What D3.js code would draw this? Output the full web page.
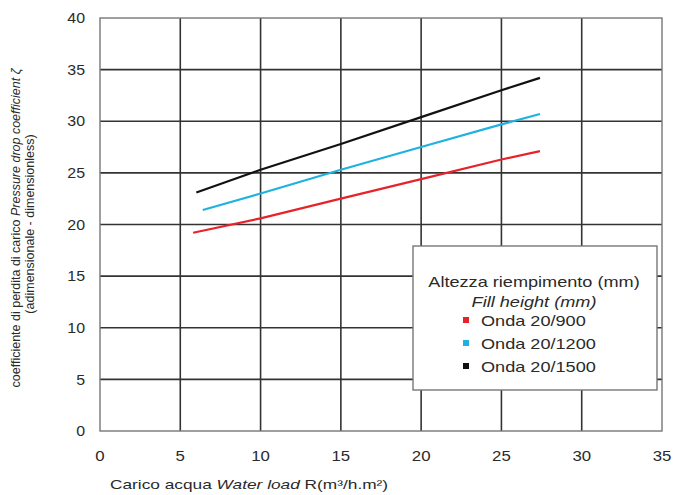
<!DOCTYPE html>
<html><head><meta charset="utf-8">
<script src="https://cdn.jsdelivr.net/npm/d3@7"></script>
<style>body{margin:0;background:#fff}svg{display:block}text{font-family:"Liberation Sans",Arial,sans-serif;fill:#2a2a2a}</style>
</head><body><svg id="c" width="687" height="495"></svg>
<script>
const xTicks=[0,5,10,15,20,25,30,35];
const yTicks=[0,5,10,15,20,25,30,35,40];
const seriesNames=["Onda 20/900","Onda 20/1200","Onda 20/1500"];
const seriesColors=["#e8222b","#1eb1e2","#111111"];
const xRed=[5.8,10,15,20,25,27.4];
const yRed=[19.2,20.6,22.5,24.4,26.3,27.1];
const xBlue=[6.4,10,15,20,25,27.4];
const yBlue=[21.4,23.0,25.3,27.5,29.7,30.7];
const xBlack=[6.0,10,15,20,25,27.4];
const yBlack=[23.1,25.3,27.8,30.4,33.0,34.2];

const svg=d3.select("#c");
const L=100,R=662,T=18,B=431;
const x=d3.scaleLinear().domain([0,35]).range([L,R]);
const y=d3.scaleLinear().domain([0,40]).range([B,T]);

// horizontally stretched text helper
function stext(parent,px,py,size,sx,anchor){
  return parent.append("g").attr("transform",`translate(${px},${py}) scale(${sx},1)`)
    .append("text").attr("font-size",size).attr("text-anchor",anchor||"start");
}

// grid
const g=svg.append("g");
g.selectAll(".vx").data(xTicks.slice(1,-1)).join("line")
 .attr("x1",d=>x(d)).attr("x2",d=>x(d)).attr("y1",T).attr("y2",B)
 .attr("stroke","#333").attr("stroke-width",1.6);
g.selectAll(".hy").data(yTicks.slice(1,-1)).join("line")
 .attr("y1",d=>y(d)).attr("y2",d=>y(d)).attr("x1",L).attr("x2",R)
 .attr("stroke","#333").attr("stroke-width",1.6);
svg.append("rect").attr("x",L).attr("y",T).attr("width",R-L).attr("height",B-T)
 .attr("fill","none").attr("stroke","#777").attr("stroke-width",1.4);

// tick labels
const xa=svg.append("g").attr("transform",`translate(0,${B})`)
 .call(d3.axisBottom(x).tickValues(xTicks).tickSize(0).tickPadding(19));
xa.select(".domain").remove();
xa.selectAll("text").attr("font-size",15).style("fill","#2a2a2a")
 .attr("font-family","Liberation Sans, Arial, sans-serif")
 .attr("transform","scale(1.12,1)");
xa.selectAll(".tick").each(function(d){
  d3.select(this).attr("transform",`translate(${x(d)},0)`);
});
const ya=svg.append("g").attr("transform",`translate(${L},0)`)
 .call(d3.axisLeft(y).tickValues(yTicks).tickSize(0).tickPadding(15));
ya.select(".domain").remove();
ya.selectAll("text").attr("font-size",14.5).style("fill","#2a2a2a")
 .attr("font-family","Liberation Sans, Arial, sans-serif")
 .attr("transform","scale(1.1,1)").attr("x",-15/1.1);

// series
const line=d3.line().x(d=>x(d[0])).y(d=>y(d[1]));
const series=[[xRed,yRed],[xBlue,yBlue],[xBlack,yBlack]];
series.forEach((s,i)=>{
  svg.append("path").datum(s[0].map((v,j)=>[v,s[1][j]]))
   .attr("d",line).attr("fill","none").attr("stroke",seriesColors[i]).attr("stroke-width",2.2);
});

// x label
const xl=stext(svg,110,489,13.5,1.28);
xl.append("tspan").text("Carico acqua ");
xl.append("tspan").attr("font-style","italic").text("Water load");
xl.append("tspan").text(" R(m³/h.m²)");

// y label
const yl=svg.append("text").attr("transform","translate(20,228) rotate(-90)").attr("text-anchor","middle").attr("font-size",12.5);
yl.append("tspan").text("coefficiente di perdita di carico ");
yl.append("tspan").attr("font-style","italic").text("Pressure drop coefficient ζ");
svg.append("text").attr("transform","translate(34,224) rotate(-90)").attr("text-anchor","middle").attr("font-size",12.5)
 .text("(adimensionale - dimensionless)");

// legend
const lg=svg.append("g");
lg.append("rect").attr("x",413).attr("y",246).attr("width",244).attr("height",144)
 .attr("fill","#fff").attr("stroke","#777").attr("stroke-width",1.4);
stext(lg,534,287,14.5,1.25,"middle").text("Altezza riempimento (mm)");
stext(lg,534,307,14.5,1.25,"middle").attr("font-style","italic").text("Fill height (mm)");
seriesNames.forEach((n,i)=>{
  const yy=320+i*23;
  lg.append("rect").attr("x",463).attr("y",yy-3).attr("width",6).attr("height",6).attr("fill",seriesColors[i]);
  stext(lg,481,yy+5.5,14.5,1.25).text(n);
});
</script></body></html>
